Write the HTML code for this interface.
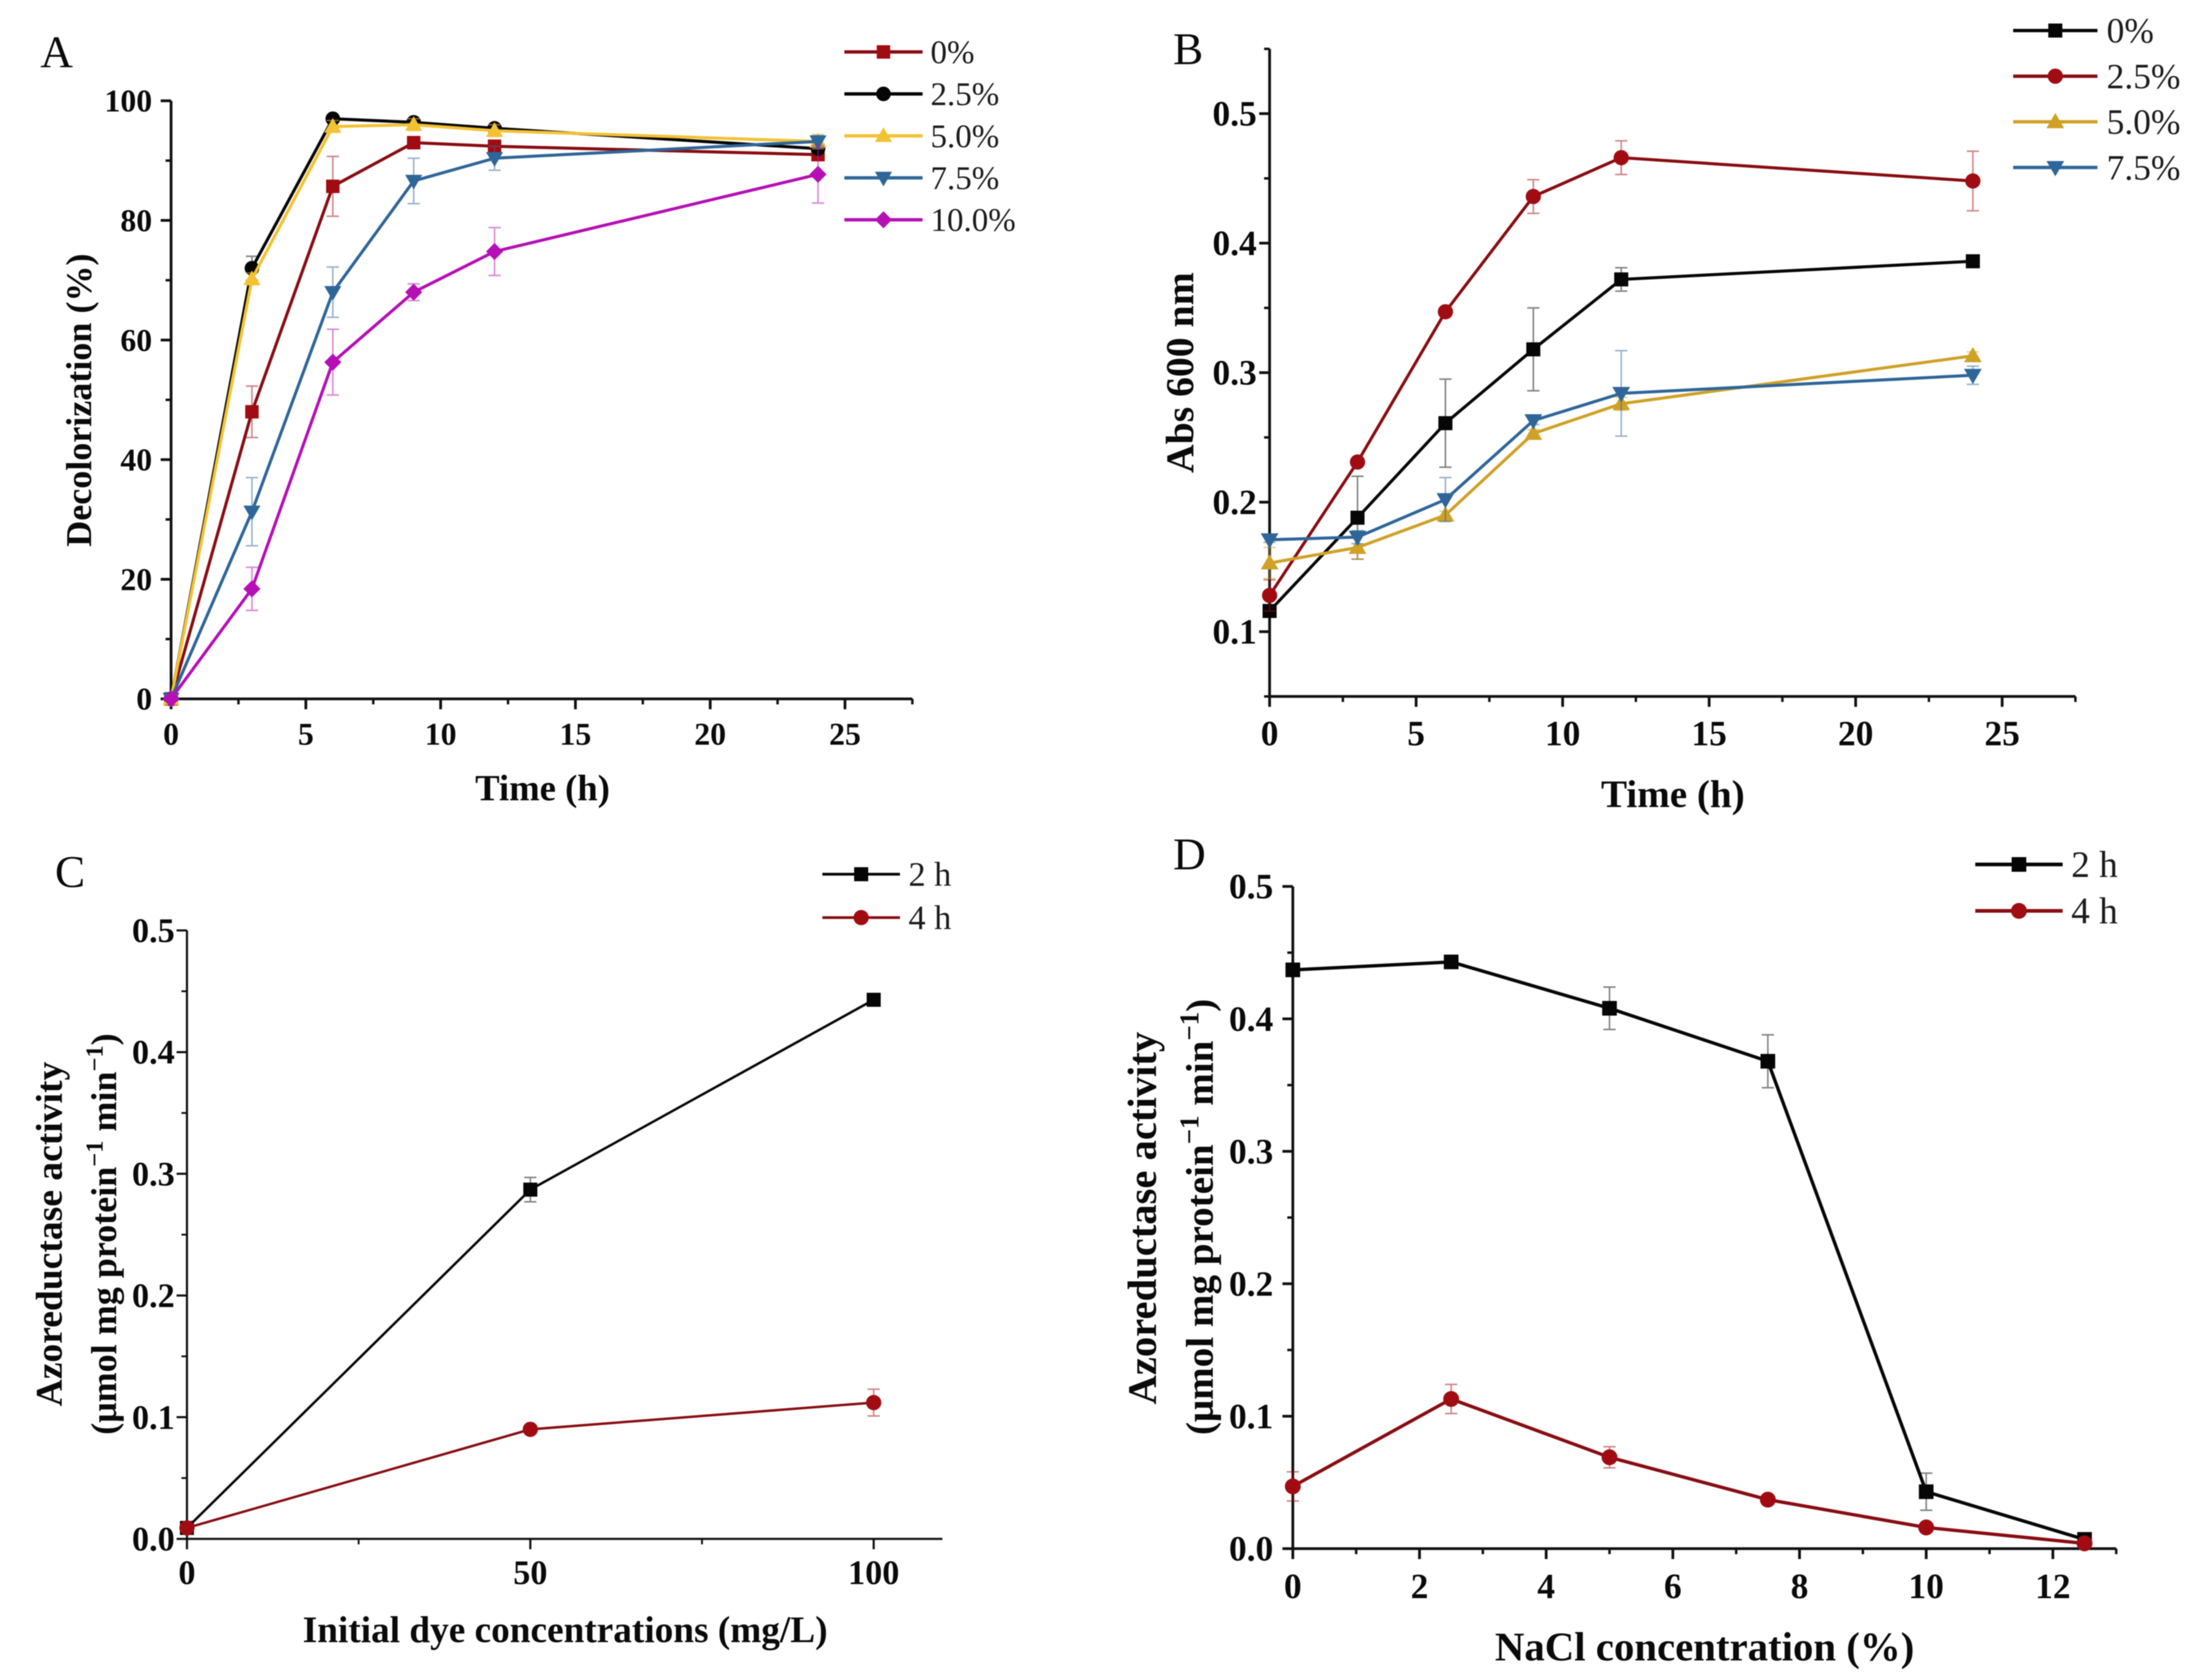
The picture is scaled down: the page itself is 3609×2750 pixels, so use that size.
<!DOCTYPE html>
<html lang="en">
<head>
<meta charset="utf-8">
<title>Decolorization and azoreductase activity panels</title>
<style>
html,body{margin:0;padding:0;background:#fff;}
#figure{display:block;width:3609px;height:2750px;filter:blur(0.9px);}
text{font-family:"Liberation Serif",serif;fill:#0a0a0a;}
.tick{font-weight:bold;}
.title{font-weight:bold;font-size:59px;}
.leg{fill:#1c1c1c;}
.letter{font-size:74px;}
</style>
</head>
<body>
<svg id="figure" xmlns="http://www.w3.org/2000/svg" width="3609" height="2750" viewBox="0 0 3609 2750">
  <rect width="3609" height="2750" fill="#fff"/>
  <g id="panelA">
    <text class="letter" x="66" y="110">A</text>
    <text class="title" text-anchor="middle" x="888" y="1310" style="font-size:60px">Time (h)</text>
    <text class="title" text-anchor="middle" transform="translate(149,655) rotate(-90)">Decolorization (%)</text>
  </g>
  <g id="panelB">
    <text class="letter" x="1920" y="105">B</text>
    <text class="title" text-anchor="middle" x="2738" y="1321" style="font-size:64px">Time (h)</text>
    <text class="title" text-anchor="middle" transform="translate(1953,610) rotate(-90)" style="font-size:65px">Abs 600 nm</text>
  </g>
  <g id="panelC">
    <text class="letter" x="90" y="1452">C</text>
    <text class="title" text-anchor="middle" x="925" y="2688" style="font-size:61px">Initial dye concentrations (mg/L)</text>
    <text class="title" text-anchor="middle" transform="translate(101,2020) rotate(-90)" style="font-size:61.5px">Azoreductase activity</text>
    <text class="title" text-anchor="middle" transform="translate(190,2020) rotate(-90)">(μmol mg protein<tspan dy="-22" font-size="40">−1</tspan><tspan dy="22"> min</tspan><tspan dy="-22" font-size="40">−1</tspan><tspan dy="22">)</tspan></text>
  </g>
  <g id="panelD">
    <text class="letter" x="1920" y="1423">D</text>
    <text class="title" text-anchor="middle" x="2790" y="2718" style="font-size:66.8px">NaCl concentration (%)</text>
    <text class="title" text-anchor="middle" transform="translate(1892,1994) rotate(-90)" style="font-size:66.5px">Azoreductase activity</text>
    <text class="title" text-anchor="middle" transform="translate(1985,1992) rotate(-90)" style="font-size:64px">(μmol mg protein<tspan dy="-24" font-size="44">−1</tspan><tspan dy="24"> min</tspan><tspan dy="-24" font-size="44">−1</tspan><tspan dy="24">)</tspan></text>
  </g>
</svg>
<script>
// ---- Panel A data ----
const timeA = [0, 3, 6, 9, 12, 24];
const legendA = ['0%', '2.5%', '5.0%', '7.5%', '10.0%'];
const decolor0 = [0, 48, 85.7, 93, 92.4, 91];
const decolor0Err = [0, 4.3, 5, 1, 1, 1];
const decolor25 = [0, 72, 97, 96.4, 95.4, 92];
const decolor25Err = [0, 2, 0.5, 0.5, 0.5, 0.8];
const decolor50 = [0, 70.2, 95.7, 96, 95, 93.2];
const decolor50Err = [0, 1, 1, 1, 1, 1.2];
const decolor75 = [0, 31.3, 68, 86.6, 90.4, 93.2];
const decolor75Err = [0, 5.7, 4.2, 3.8, 2, 1];
const decolor100 = [0, 18.4, 56.3, 68, 74.8, 87.7];
const decolor100Err = [0, 3.6, 5.5, 1.4, 4, 4.8];
const xTicksA = [0, 5, 10, 15, 20, 25];
const yTicksA = [0, 20, 40, 60, 80, 100];

// ---- Panel B data ----
const timeB = [0, 3, 6, 9, 12, 24];
const legendB = ['0%', '2.5%', '5.0%', '7.5%'];
const abs0 = [0.116, 0.188, 0.261, 0.318, 0.372, 0.386];
const abs0Err = [0.003, 0.032, 0.034, 0.032, 0.009, 0.003];
const abs25 = [0.128, 0.231, 0.347, 0.436, 0.466, 0.448];
const abs25Err = [0.012, 0.003, 0.003, 0.013, 0.013, 0.023];
const abs50 = [0.153, 0.165, 0.19, 0.253, 0.276, 0.313];
const abs50Err = [0.012, 0.009, 0.003, 0.003, 0.005, 0.003];
const abs75 = [0.171, 0.173, 0.202, 0.263, 0.284, 0.298];
const abs75Err = [0.002, 0.005, 0.017, 0.003, 0.033, 0.007];
const xTicksB = [0, 5, 10, 15, 20, 25];
const yTicksB = [0.1, 0.2, 0.3, 0.4, 0.5];

// ---- Panel C data ----
const dyeConc = [0, 50, 100];
const legendC = ['2 h', '4 h'];
const dye2h = [0.009, 0.287, 0.443];
const dye2hErr = [0.002, 0.01, 0.003];
const dye4h = [0.009, 0.09, 0.112];
const dye4hErr = [0.002, 0.003, 0.011];
const xTicksC = [0, 50, 100];
const yTicksC = [0, 0.1, 0.2, 0.3, 0.4, 0.5];

// ---- Panel D data ----
const nacl = [0, 2.5, 5, 7.5, 10, 12.5];
const legendD = ['2 h', '4 h'];
const nacl2h = [0.437, 0.443, 0.408, 0.368, 0.043, 0.007];
const nacl2hErr = [0.003, 0.003, 0.016, 0.02, 0.014, 0.002];
const nacl4h = [0.047, 0.113, 0.069, 0.037, 0.016, 0.004];
const nacl4hErr = [0.011, 0.011, 0.008, 0.003, 0.002, 0.001];
const xTicksD = [0, 2, 4, 6, 8, 10, 12];
const yTicksD = [0, 0.1, 0.2, 0.3, 0.4, 0.5];

const NS = 'http://www.w3.org/2000/svg';
function mk(parent, tag, attrs, txt) {
  const el = document.createElementNS(NS, tag);
  for (const k in attrs) el.setAttribute(k, attrs[k]);
  if (txt !== undefined) el.textContent = txt;
  parent.appendChild(el);
  return el;
}
function marker(parent, shape, x, y, color, s, name) {
  let el;
  if (shape === 'square') {
    el = mk(parent, 'rect', {x: x - s, y: y - s, width: 2 * s, height: 2 * s, fill: color});
  } else if (shape === 'circle') {
    el = mk(parent, 'circle', {cx: x, cy: y, r: s + 1, fill: color});
  } else if (shape === 'up') {
    el = mk(parent, 'polygon', {points: (x) + ',' + (y - s - 3) + ' ' + (x + s + 3) + ',' + (y + s - 1) + ' ' + (x - s - 3) + ',' + (y + s - 1), fill: color});
  } else if (shape === 'down') {
    el = mk(parent, 'polygon', {points: (x) + ',' + (y + s + 3) + ' ' + (x + s + 3) + ',' + (y - s + 1) + ' ' + (x - s - 3) + ',' + (y - s + 1), fill: color});
  } else {
    el = mk(parent, 'polygon', {points: x + ',' + (y - s - 3) + ' ' + (x + s + 3) + ',' + y + ' ' + x + ',' + (y + s + 3) + ' ' + (x - s - 3) + ',' + y, fill: color});
  }
  
  
  return el;
}
function drawPanel(id, c) {
  const g = document.getElementById(id);
  const sx = v => c.x0 + (v - c.xMin) * (c.x1 - c.x0) / (c.xMax - c.xMin);
  const sy = v => c.y0 - (v - c.yMin) * (c.y0 - c.y1) / (c.yMax - c.yMin);
  const axisEnd = sx(c.xEnd);
  const axisTop = sy(c.yEnd);

  const xAxis = mk(g, 'line', {x1: c.x0 - 2, y1: c.y0, x2: axisEnd, y2: c.y0, stroke: '#111', 'stroke-width': c.axisW});
  
  
  const yAxis = mk(g, 'line', {x1: c.x0, y1: axisTop, x2: c.x0, y2: c.y0 + 2, stroke: '#111', 'stroke-width': c.axisW});
  
  

  c.xTicks.forEach(v => {
    const t = mk(g, 'line', {x1: sx(v), y1: c.y0, x2: sx(v), y2: c.y0 + 17, stroke: '#111', 'stroke-width': c.axisW});
    
    
    const l = mk(g, 'text', {class: 'tick', x: sx(v), y: c.xLabelY, 'text-anchor': 'middle', 'font-size': c.tickFont}, String(v));
    
    
  });
  for (let v = c.xMin + c.xMinor; v <= c.xEnd + 1e-6; v += c.xMinor) {
    if (c.xTicks.some(k => Math.abs(k - v) < 1e-6)) continue;
    const t = mk(g, 'line', {x1: sx(v), y1: c.y0, x2: sx(v), y2: c.y0 + 9, stroke: '#111', 'stroke-width': c.axisW - 0.5});
    
    
  }
  c.yTicks.forEach(v => {
    const t = mk(g, 'line', {x1: c.x0, y1: sy(v), x2: c.x0 - 17, y2: sy(v), stroke: '#111', 'stroke-width': c.axisW});
    
    
    const l = mk(g, 'text', {class: 'tick', x: c.yLabelX, y: sy(v) + c.tickFont * 0.34, 'text-anchor': 'end', 'font-size': c.tickFont}, v.toFixed(c.yDec));
    
    
  });
  const yStart = c.yTicks[0];
  for (let v = yStart - c.yMinor; v >= c.yMin - 1e-6; v -= c.yMinor) {
    if (v < c.yMin + 1e-6 && c.yMin === 0) continue;
    const t = mk(g, 'line', {x1: c.x0, y1: sy(v), x2: c.x0 - 9, y2: sy(v), stroke: '#111', 'stroke-width': c.axisW - 0.5});
    
    
  }
  for (let v = yStart + c.yMinor; v <= c.yEnd + 1e-6; v += c.yMinor) {
    if (c.yTicks.some(k => Math.abs(k - v) < 1e-6)) continue;
    const t = mk(g, 'line', {x1: c.x0, y1: sy(v), x2: c.x0 - 9, y2: sy(v), stroke: '#111', 'stroke-width': c.axisW - 0.5});
    
    
  }

  c.series.forEach((s, si) => {
    const sg = mk(g, 'g', {});
    
    
    c.xs.forEach((x, i) => {
      const e = s.err[i];
      if (!e) return;
      const px = sx(x), hi = sy(s.y[i] + e), lo = sy(s.y[i] - e);
      const bar = mk(sg, 'path', {d: 'M' + px + ' ' + hi + 'V' + lo + 'M' + (px - 10) + ' ' + hi + 'H' + (px + 10) + 'M' + (px - 10) + ' ' + lo + 'H' + (px + 10), stroke: s.color, 'stroke-opacity': 0.5, 'stroke-width': 2.5, fill: 'none'});
      
      
    });
    const pts = c.xs.map((x, i) => sx(x) + ',' + sy(s.y[i])).join(' ');
    const ln = mk(sg, 'polyline', {points: pts, fill: 'none', stroke: s.lineColor || s.color, 'stroke-width': c.lineW, 'stroke-linejoin': 'round'});
    
    
    c.xs.forEach((x, i) => marker(sg, s.shape, sx(x), sy(s.y[i]), s.color, c.mk, 'data-point'));
  });

  c.series.forEach((s, si) => {
    const ly = c.legY + si * c.legStep;
    const lg = mk(g, 'g', {});
    
    
    const ln = mk(lg, 'line', {x1: c.legX1, y1: ly, x2: c.legX2, y2: ly, stroke: s.lineColor || s.color, 'stroke-width': c.lineW + 0.5});
    
    
    marker(lg, s.shape, (c.legX1 + c.legX2) / 2, ly, s.color, c.mk, 'legend-marker');
    const t = mk(lg, 'text', {class: 'leg', x: c.legText, y: ly + c.legFont * 0.34, 'font-size': c.legFont}, s.label);
    
    
  });
}

const RED = '#a00c12', REDL = '#880d12', BLK = '#060606', YEL = '#f3c233', BLU = '#2f6699', MAG = '#b50fb5', GOLD = '#cfa126';

drawPanel('panelA', {
  x0: 280, x1: 1383, xMin: 0, xMax: 25, xEnd: 27.5, xMinor: 2.5,
  y0: 1144, y1: 165, yMin: 0, yMax: 100, yEnd: 100, yMinor: 10, yDec: 0,
  xTicks: xTicksA, yTicks: yTicksA, xLabelY: 1219, yLabelX: 249, tickFont: 52, legFont: 54,
  axisW: 4.5, lineW: 5, mk: 11, xs: timeA,
  legX1: 1382, legX2: 1510, legY: 85, legStep: 68.7, legText: 1523,
  series: [
    {label: legendA[0], y: decolor0, err: decolor0Err, color: RED, lineColor: REDL, shape: 'square'},
    {label: legendA[1], y: decolor25, err: decolor25Err, color: BLK, shape: 'circle'},
    {label: legendA[2], y: decolor50, err: decolor50Err, color: YEL, shape: 'up'},
    {label: legendA[3], y: decolor75, err: decolor75Err, color: BLU, shape: 'down'},
    {label: legendA[4], y: decolor100, err: decolor100Err, color: MAG, shape: 'diamond'}
  ]
});
drawPanel('panelB', {
  x0: 2078, x1: 3277, xMin: 0, xMax: 25, xEnd: 27.5, xMinor: 2.5,
  y0: 1140, y1: 186, yMin: 0.05, yMax: 0.5, yEnd: 0.55, yMinor: 0.05, yDec: 1,
  xTicks: xTicksB, yTicks: yTicksB, xLabelY: 1220, yLabelX: 2057, tickFont: 58, legFont: 58,
  axisW: 4.5, lineW: 5, mk: 11.5, xs: timeB,
  legX1: 3295, legX2: 3433, legY: 50, legStep: 74.7, legText: 3448,
  series: [
    {label: legendB[0], y: abs0, err: abs0Err, color: BLK, shape: 'square'},
    {label: legendB[1], y: abs25, err: abs25Err, color: RED, lineColor: REDL, shape: 'circle'},
    {label: legendB[2], y: abs50, err: abs50Err, color: GOLD, shape: 'up'},
    {label: legendB[3], y: abs75, err: abs75Err, color: BLU, shape: 'down'}
  ]
});
drawPanel('panelC', {
  x0: 306, x1: 1430, xMin: 0, xMax: 100, xEnd: 110, xMinor: 25,
  y0: 2519, y1: 1523, yMin: 0, yMax: 0.5, yEnd: 0.5, yMinor: 0.05, yDec: 1,
  xTicks: xTicksC, yTicks: yTicksC, xLabelY: 2593, yLabelX: 286, tickFont: 56, legFont: 56,
  axisW: 3.5, lineW: 4, mk: 11.5, xs: dyeConc,
  legX1: 1346, legX2: 1473, legY: 1431, legStep: 71, legText: 1487,
  series: [
    {label: legendC[0], y: dye2h, err: dye2hErr, color: BLK, shape: 'square'},
    {label: legendC[1], y: dye4h, err: dye4hErr, color: RED, lineColor: REDL, shape: 'circle'}
  ]
});
drawPanel('panelD', {
  x0: 2116, x1: 3360, xMin: 0, xMax: 12, xEnd: 13, xMinor: 1,
  y0: 2535, y1: 1451, yMin: 0, yMax: 0.5, yEnd: 0.5, yMinor: 0.05, yDec: 1,
  xTicks: xTicksD, yTicks: yTicksD, xLabelY: 2616, yLabelX: 2084, tickFont: 58, legFont: 61,
  axisW: 4.5, lineW: 5.5, mk: 12, xs: nacl,
  legX1: 3233, legX2: 3376, legY: 1415, legStep: 76, legText: 3390,
  series: [
    {label: legendD[0], y: nacl2h, err: nacl2hErr, color: BLK, shape: 'square'},
    {label: legendD[1], y: nacl4h, err: nacl4hErr, color: RED, lineColor: REDL, shape: 'circle'}
  ]
});
</script>
</body>
</html>
